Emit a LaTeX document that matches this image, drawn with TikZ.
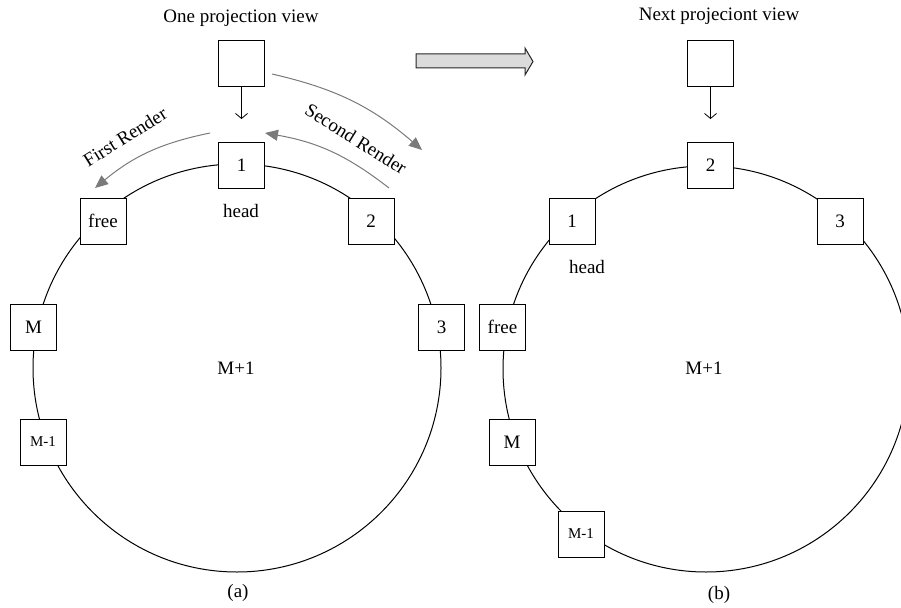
\documentclass[tikz,border=0pt]{standalone}
\usepackage{fontspec}
\setmainfont{Liberation Serif}
\usetikzlibrary{arrows.meta}
\begin{document}
\begin{tikzpicture}[x=1pt,y=-1pt,
  slot/.style={draw, fill=white, line width=1pt, minimum size=46pt, inner sep=0pt,
    font=\fontsize{19}{22}\selectfont},
  smallslot/.style={slot, font=\fontsize{15}{18}\selectfont},
  lbl/.style={inner sep=0pt, font=\fontsize{19}{22}\selectfont},
  ring/.style={line width=1pt},
  feed/.style={line width=0.8pt, -{Straight Barb[length=5pt,width=12pt]}},
  pass/.style={draw=black!52, line width=1pt, -{Triangle[length=13pt,width=11pt]}},
  bigarrow/.style={draw=black!85, line width=1pt, fill=black!14}]
\useasboundingbox (0,0) rectangle (901,607);
\clip (0,0) rectangle (901,607);

% ---------- (a) ----------
\draw[ring] (237,368) circle[radius=204pt];
\node[lbl] (titleA) at (241,18) {One projection view};
\node[slot] (viewA) at (241.5,63.5) {};
\coordinate (dropA) at (241.5,119);
\draw[feed] (viewA.south) -- (dropA);
\node[slot] (a1) at (241.5,165) {1};
\node[lbl] (headA) at (241,211) {head};
\node[slot] (afree) at (103,221) {free};
\node[slot] (a2) at (371,221) {2};
\node[slot] (aM) at (33.5,327) {M};
\node[slot] (a3) at (441.5,327) {3};
\node[smallslot] (aM1) at (43,442) {M-1};
\node[lbl] (centerA) at (236,368) {M+1};
\node[lbl] (capA) at (238,593) {(a)};

% render sweeps
\coordinate (f0) at (210,133);
\coordinate (f1) at (95,188);
\coordinate (s0) at (389,188);
\coordinate (s1) at (265,133);
\coordinate (u0) at (272,74);
\coordinate (u1) at (422,150);
\draw[pass] (f0) to[bend right=14] (f1);
\draw[pass] (s0) to[bend right=14] (s1);
\draw[pass] (u0) to[bend left=14] (u1);
\node[lbl, rotate=32] (firstR) at (125,137) {First Render};
\node[lbl, rotate=-32] (secondR) at (356,139) {Second Render};

% step to the next view
\draw[bigarrow] (416,54) -- (525,54) -- (525,48) -- (533,61.5) -- (525,75)
  -- (525,68) -- (416,68) -- cycle;

% ---------- (b) ----------
\draw[ring] (706,369) circle[radius=203pt];
\node[lbl] (titleB) at (719,16) {Next projeciont view};
\node[slot] (viewB) at (710.5,63.5) {};
\coordinate (dropB) at (710.5,119);
\draw[feed] (viewB.south) -- (dropB);
\node[slot] (b2) at (710.5,165) {2};
\node[slot] (b1) at (572,221) {1};
\node[lbl] (headB) at (587,267) {head};
\node[slot] (b3) at (840,221) {3};
\node[slot] (bfree) at (502.5,327) {free};
\node[slot] (bM) at (512,442) {M};
\node[smallslot] (bM1) at (581,534) {M-1};
\node[lbl] (centerB) at (704,368) {M+1};
\node[lbl] (capB) at (719,595) {(b)};
\end{tikzpicture}
\end{document}
